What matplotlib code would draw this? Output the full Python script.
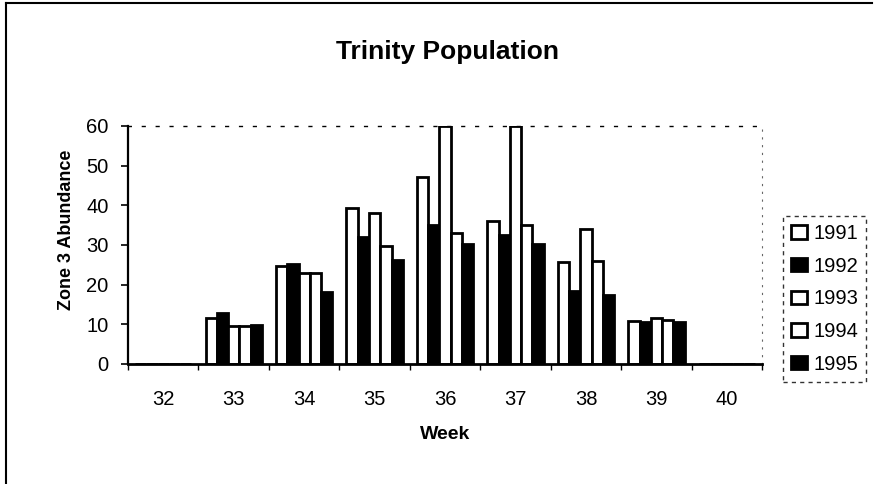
import matplotlib.pyplot as plt
import numpy as np
from matplotlib.lines import Line2D
from matplotlib.patches import Rectangle

plt.rcParams['font.family'] = ['Liberation Sans', 'DejaVu Sans']

weeks = ["32", "33", "34", "35", "36", "37", "38", "39", "40"]
years = ["1991", "1992", "1993", "1994", "1995"]
y1991 = [0, 11.7, 24.6, 39.4, 47.1, 36.0, 25.6, 10.8, 0]
y1992 = [0, 12.8, 25.2, 32.1, 35.0, 32.6, 18.3, 10.5, 0]
y1993 = [0, 9.6, 23.0, 38.0, 60.0, 60.0, 34.0, 11.6, 0]
y1994 = [0, 9.6, 23.0, 29.8, 33.0, 34.9, 26.0, 11.0, 0]
y1995 = [0, 9.9, 18.1, 26.1, 30.3, 30.2, 17.4, 10.6, 0]
series = [y1991, y1992, y1993, y1994, y1995]
fills = ["white", "black", "white", "white", "black"]

fig = plt.figure(figsize=(8.74, 4.84), dpi=100)
ax = fig.add_axes([0.1465, 0.248, 0.7255, 0.492])

x = np.arange(len(weeks))
w = 0.16
for i, (vals, fc) in enumerate(zip(series, fills)):
    ax.bar(x + (i - 2) * w, vals, w, color=fc, edgecolor="black", linewidth=2.0)

ax.set_xlim(-0.5, len(weeks) - 0.5)
ax.set_ylim(0, 60)
ax.set_yticks(range(0, 61, 10))
ax.set_xticks(x)
ax.set_xticklabels(weeks)
ax.set_xticks(np.arange(-0.5, len(weeks), 1), minor=True)
ax.tick_params(axis="x", which="major", length=0, pad=19, labelsize=14.5)
ax.tick_params(axis="x", which="minor", length=4, width=1, direction="out")
ax.tick_params(axis="y", length=5, width=1.2, direction="out", labelsize=14.5, pad=9)

ax.spines["left"].set_linewidth(1.6)
ax.spines["bottom"].set_linewidth(2.0)
ax.spines["top"].set_linestyle((0, (2, 8)))
ax.spines["top"].set_linewidth(1.0)
ax.spines["right"].set_linestyle((0, (1, 6)))
ax.spines["right"].set_color("#666666")
ax.spines["right"].set_linewidth(0.8)

ax.set_xlabel("Week", fontsize=14, fontweight="bold", labelpad=12)
ax.set_ylabel("Zone 3 Abundance", fontsize=13, fontweight="bold")
ax.yaxis.set_label_coords(-0.083, 0.563)
fig.text(0.512, 0.892, "Trinity Population", ha="center", va="center",
         fontsize=19, fontweight="bold")

# legend squares, same style as the bars
handles = [Rectangle((0, 0), 1, 1, facecolor=fc, edgecolor="black", linewidth=2.0) for fc in fills]
leg = fig.legend(handles, years, loc="upper left", bbox_to_anchor=(0.896, 0.554),
                 frameon=True, fontsize=14.5, handlelength=0.8, handleheight=0.65,
                 handletextpad=0.3, labelspacing=0.68, borderpad=0.4, borderaxespad=0,
                 fancybox=False, edgecolor="black")
leg.get_frame().set_linewidth(1.0)
leg.get_frame().set_linestyle((0, (3, 3)))

# outer chart border
fig.add_artist(Line2D([0.007, 0.007], [0.0, 0.994], transform=fig.transFigure, color="black", lw=1.5))
fig.add_artist(Line2D([0.007, 0.998], [0.994, 0.994], transform=fig.transFigure, color="black", lw=1.5))

fig.savefig("out.png", dpi=100)
